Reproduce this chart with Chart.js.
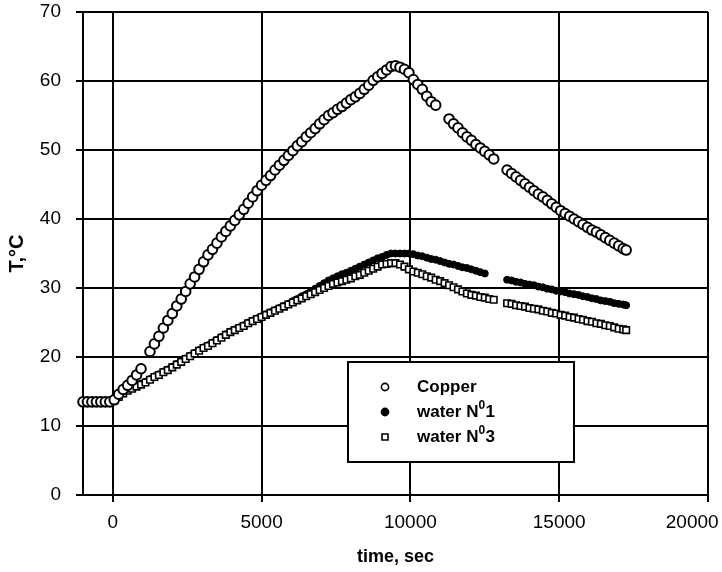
<!DOCTYPE html>
<html>
<head>
<meta charset="utf-8">
<title>Temperatura x tempo</title>
<script src="https://cdn.jsdelivr.net/npm/chart.js@4.4.1/dist/chart.umd.min.js"></script>
<style>
  html, body { margin: 0; padding: 0; background: #fff; }
  #grafico { display: block; }
</style>
</head>
<body>
<canvas id="grafico" width="722" height="572"></canvas>
<script>
// Dados (tempo em s, temperatura em °C)
const tempos = [
  -1000, -850, -700, -550, -400, -250, -100, 50, 200, 350,
  500, 650, 800, 950, 1100, 1250, 1400, 1550, 1700, 1850,
  2000, 2150, 2300, 2450, 2600, 2750, 2900, 3050, 3200, 3350,
  3500, 3650, 3800, 3950, 4100, 4250, 4400, 4550, 4700, 4850,
  5000, 5150, 5300, 5450, 5600, 5750, 5900, 6050, 6200, 6350,
  6500, 6650, 6800, 6950, 7100, 7250, 7400, 7550, 7700, 7850,
  8000, 8150, 8300, 8450, 8600, 8750, 8900, 9050, 9200, 9350,
  9500, 9650, 9800, 9950, 10100, 10250, 10400, 10550, 10700, 10850,
  11000, 11150, 11300, 11450, 11600, 11750, 11900, 12050, 12200, 12350,
  12500, 12650, 12800, 12950, 13100, 13250, 13400, 13550, 13700, 13850,
  14000, 14150, 14300, 14450, 14600, 14750, 14900, 15050, 15200, 15350,
  15500, 15650, 15800, 15950, 16100, 16250, 16400, 16550, 16700, 16850,
  17000, 17150, 17250
];

const cobre = [
  13.5, 13.5, 13.5, 13.5, 13.5, 13.5, 13.5, 13.8, 14.6, 15.3,
  15.9, 16.6, 17.4, 18.3, null, 20.8, 21.9, 23.0, 24.2, 25.3,
  26.3, 27.4, 28.4, 29.5, 30.6, 31.6, 32.7, 33.8, 34.8, 35.6,
  36.5, 37.4, 38.2, 39.0, 39.8, 40.6, 41.4, 42.3, 43.2, 44.1,
  44.9, 45.6, 46.3, 47.1, 47.8, 48.5, 49.2, 49.9, 50.6, 51.2,
  51.9, 52.5, 53.1, 53.8, 54.4, 55.0, 55.4, 55.9, 56.3, 56.8,
  57.3, 57.7, 58.2, 58.8, 59.4, 60.1, 60.6, 61.1, 61.6, 62.1,
  62.2, 62.0, 61.7, 61.2, 60.2, 59.5, 58.8, 57.8, 57.0, 56.5,
  null, null, 54.5, 53.8, 53.2, 52.5, 51.9, 51.4, 50.8, 50.3,
  49.8, 49.3, 48.7, null, null, 47.1, 46.6, 46.1, 45.6, 45.1,
  44.6, 44.1, 43.6, 43.2, 42.7, 42.2, 41.7, 41.2, 40.8, 40.4,
  40.0, 39.6, 39.2, 38.8, 38.4, 38.1, 37.7, 37.3, 36.9, 36.5,
  36.1, 35.7, 35.5
];

const agua1 = [
  13.5, 13.5, 13.5, 13.5, 13.5, 13.5, 13.5, 13.8, 14.3, 14.8,
  15.2, 15.5, 15.8, 16.1, 16.4, 16.8, 17.2, 17.5, 17.9, 18.2,
  18.6, 19.0, 19.4, 19.8, 20.2, 20.6, 21.0, 21.4, 21.7, 22.1,
  22.5, 22.9, 23.3, 23.7, 24.0, 24.3, 24.6, 25.0, 25.3, 25.6,
  25.9, 26.2, 26.5, 26.8, 27.1, 27.4, 27.7, 28.1, 28.4, 28.8,
  29.1, 29.5, 29.9, 30.3, 30.7, 31.1, 31.4, 31.7, 32.0, 32.2,
  32.5, 32.8, 33.1, 33.4, 33.7, 34.0, 34.3, 34.5, 34.8, 35.0,
  35.0, 35.0, 35.0, 35.0, 34.9, 34.7, 34.6, 34.4, 34.2, 34.1,
  33.9, 33.7, 33.5, 33.4, 33.2, 33.0, 32.9, 32.7, 32.5, 32.3,
  32.1, null, null, null, null, 31.2, 31.1, 30.9, 30.8, 30.6,
  30.5, 30.4, 30.2, 30.1, 29.9, 29.8, 29.6, 29.5, 29.4, 29.2,
  29.1, 29.0, 28.8, 28.7, 28.5, 28.4, 28.2, 28.1, 28.0, 27.8,
  27.7, 27.6, 27.5
];

const agua3 = [
  13.5, 13.5, 13.5, 13.5, 13.5, 13.5, 13.5, 13.7, 14.2, 14.7,
  15.1, 15.4, 15.7, 16.0, 16.3, 16.7, 17.1, 17.4, 17.8, 18.1,
  18.5, 18.9, 19.3, 19.7, 20.1, 20.5, 20.9, 21.3, 21.6, 22.0,
  22.4, 22.8, 23.2, 23.6, 23.9, 24.2, 24.5, 24.9, 25.2, 25.5,
  25.8, 26.1, 26.4, 26.7, 27.0, 27.3, 27.6, 27.9, 28.2, 28.5,
  28.8, 29.1, 29.4, 29.7, 30.0, 30.3, 30.6, 30.8, 31.0, 31.2,
  31.4, 31.7, 31.9, 32.2, 32.5, 32.8, 33.1, 33.4, 33.5, 33.6,
  33.6, 33.4, 33.1, 32.7, 32.4, 32.2, 32.0, 31.7, 31.5, 31.2,
  31.0, 30.7, 30.4, 30.1, 29.8, 29.5, 29.2, 29.0, 28.9, 28.7,
  28.6, 28.4, 28.3, null, null, 27.8, 27.7, 27.5, 27.4, 27.3,
  27.1, 27.0, 26.9, 26.7, 26.6, 26.4, 26.3, 26.1, 26.0, 25.8,
  25.7, 25.5, 25.4, 25.2, 25.1, 24.9, 24.8, 24.6, 24.5, 24.3,
  24.1, 24.0, 23.9
];

const rotulos = ['Copper', 'water N\u20701', 'water N\u20703'];
const ticksX = [0, 5000, 10000, 15000, 20000];
const limitesX = [-1000, 20000];
const limitesY = [0, 70];
const passoY = 10;

const FONTE = '"Liberation Sans", Arial, Helvetica, sans-serif';

function pontos(valores) {
    return tempos
        .map((t, i) => ({ x: t, y: valores[i] }))
        .filter(p => p.y !== null);
}

// texto com "⁰" desenhado como sobrescrito menor
function desenharTexto(ctx, texto, x, y) {
    const partes = texto.split('\u2070');
    partes.forEach((parte, i) => {
        if (i > 0) {
            ctx.font = 'bold 12px ' + FONTE;
            ctx.fillText('0', x, y - 6);
            x += ctx.measureText('0').width + 0.5;
        }
        ctx.font = 'bold 17px ' + FONTE;
        ctx.fillText(parte, x, y);
        x += ctx.measureText(parte).width;
    });
}

// legenda dentro da área do gráfico, com caixa
const legendaInterna = {
    id: 'legendaInterna',
    afterDraw(chart) {
        const ctx = chart.ctx;
        const caixa = { x: 348, y: 362, w: 226, h: 100 };
        ctx.save();
        ctx.fillStyle = '#fff';
        ctx.fillRect(caixa.x, caixa.y, caixa.w, caixa.h);
        ctx.strokeStyle = '#000';
        ctx.lineWidth = 2;
        ctx.strokeRect(caixa.x, caixa.y, caixa.w, caixa.h);

        chart.data.datasets.forEach((ds, i) => {
            const yLinha = 387 + i * 25;
            const xMarca = 385;
            ctx.strokeStyle = '#000';
            ctx.lineWidth = 1.6;
            ctx.beginPath();
            if (ds.pointStyle === 'rect') {
                ctx.rect(xMarca - 3, yLinha - 3, 6, 6);
            } else {
                ctx.arc(xMarca, yLinha, 3.6, 0, Math.PI * 2);
            }
            ctx.fillStyle = ds.pointBackgroundColor;
            ctx.fill();
            ctx.stroke();

            ctx.fillStyle = '#000';
            ctx.textBaseline = 'middle';
            ctx.textAlign = 'left';
            desenharTexto(ctx, ds.label, 417, yLinha);
        });
        ctx.restore();
    }
};

const gradePreta = { color: '#000', lineWidth: 2, tickLength: 7, tickColor: '#000', tickWidth: 2 };
const bordaPreta = { color: '#000', width: 2 };

const ctx = document.getElementById('grafico').getContext('2d');
new Chart(ctx, {
    type: 'scatter',
    data: {
        datasets: [
            { label: rotulos[0], data: pontos(cobre), pointStyle: 'circle', pointRadius: 4.8, pointBorderWidth: 2,
              pointBackgroundColor: '#fff', pointBorderColor: '#000', order: 0, clip: false },
            { label: rotulos[1], data: pontos(agua1), pointStyle: 'circle', pointRadius: 3.5, pointBorderWidth: 1,
              pointBackgroundColor: '#000', pointBorderColor: '#000', order: 2, clip: false },
            { label: rotulos[2], data: pontos(agua3), pointStyle: 'rect', pointRadius: 4.6, pointBorderWidth: 1.6,
              pointBackgroundColor: '#fff', pointBorderColor: '#000', order: 1, clip: false }
        ]
    },
    options: {
        responsive: false,
        animation: false,
        events: [],
        layout: { padding: { top: 12, right: 14, left: 0, bottom: 0 } },
        plugins: { legend: { display: false }, tooltip: { enabled: false } },
        scales: {
            x: {
                type: 'linear',
                min: limitesX[0],
                max: limitesX[1],
                afterBuildTicks: s => { s.ticks = ticksX.map(v => ({ value: v })); },
                afterFit: s => { s.height = 77; s.paddingLeft = 0; s.paddingRight = 0; },
                grid: gradePreta,
                border: bordaPreta,
                ticks: {
                    color: '#000',
                    font: { family: FONTE, size: 19 },
                    padding: 9,
                    maxRotation: 0,
                    autoSkip: false,
                    // último rótulo empurrado para dentro da figura
                    callback: (v, i, arr) => i === arr.length - 1 ? String(v) + '\u00A0'.repeat(6) : String(v)
                },
                title: {
                    display: true,
                    text: 'time, sec',
                    color: '#000',
                    font: { family: FONTE, size: 18, weight: 'bold' },
                    padding: { top: 0, bottom: 4 }
                }
            },
            y: {
                min: limitesY[0],
                max: limitesY[1],
                afterFit: s => { s.width = 83; s.paddingTop = 0; s.paddingBottom = 0; },
                grid: gradePreta,
                border: bordaPreta,
                ticks: {
                    stepSize: passoY,
                    color: '#000',
                    font: { family: FONTE, size: 19 },
                    padding: 15
                },
                title: {
                    display: true,
                    text: 'T,°C',
                    color: '#000',
                    font: { family: FONTE, size: 20, weight: 'bold' },
                    padding: { top: 5, bottom: 0 }
                }
            }
        }
    },
    plugins: [legendaInterna]
});
</script>
</body>
</html>
